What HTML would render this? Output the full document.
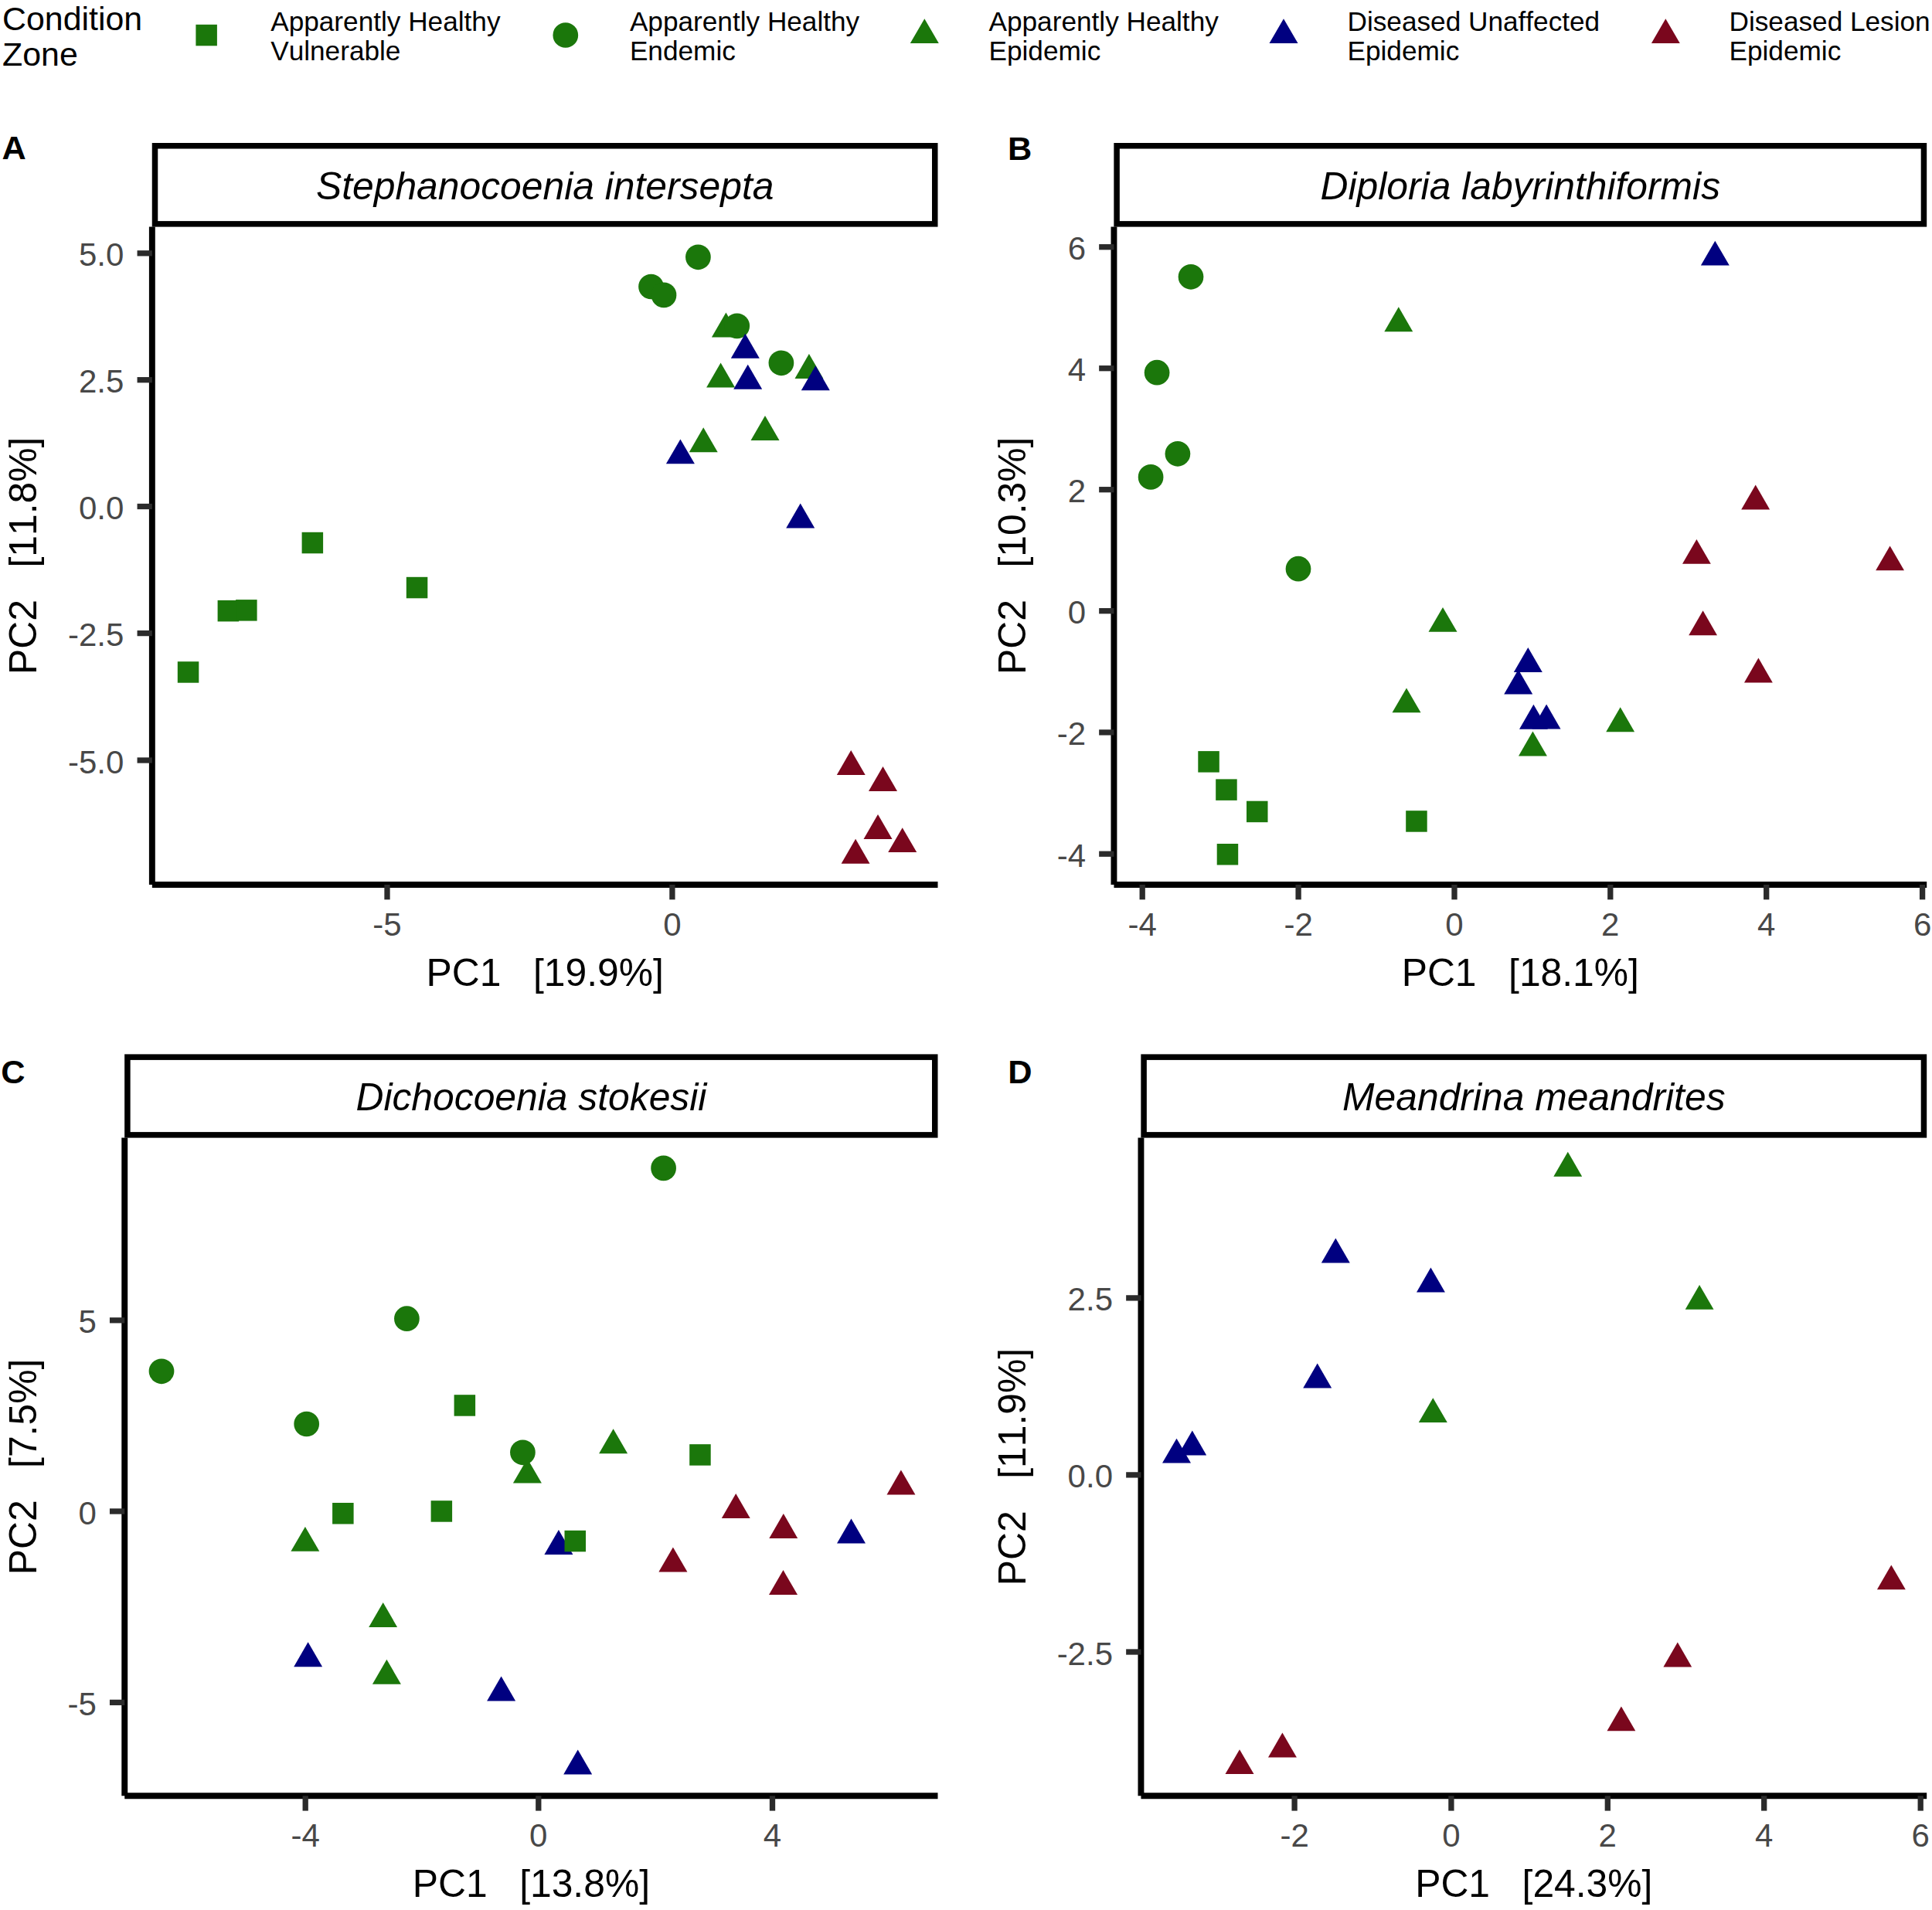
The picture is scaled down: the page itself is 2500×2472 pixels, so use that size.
<!DOCTYPE html>
<html lang="en"><head><meta charset="utf-8"><title>PCA of coral condition by zone</title>
<style>
html,body{margin:0;padding:0;background:#fff;}
body{width:2500px;height:2472px;overflow:hidden;}
svg{display:block;}
svg text{font-family:"Liberation Sans",sans-serif;font-kerning:none;font-variant-ligatures:none;font-feature-settings:"liga" 0,"kern" 0;}
</style></head><body>
<svg width="2500" height="2472" viewBox="0 0 2500 2472">
<rect width="2500" height="2472" fill="#ffffff"/>
<text x="3" y="39.3" font-size="42.9" fill="#000">Condition</text>
<text x="3" y="85" font-size="42.9" fill="#000">Zone</text>
<rect x="253.4" y="31.8" width="27.5" height="27.5" fill="#1b770b"/>
<text x="350.2" y="40.1" font-size="35.2" fill="#000">Apparently Healthy</text><text x="350.2" y="77.9" font-size="35.2" fill="#000">Vulnerable</text>
<circle cx="731.8" cy="45.5" r="16.35" fill="#1b770b"/>
<text x="814.9" y="40.1" font-size="35.2" fill="#000">Apparently Healthy</text><text x="814.9" y="77.9" font-size="35.2" fill="#000">Endemic</text>
<polygon points="1196.3,24.2 1177.8,56.1 1214.8,56.1" fill="#1b770b"/>
<text x="1279.5" y="40.1" font-size="35.2" fill="#000">Apparently Healthy</text><text x="1279.5" y="77.9" font-size="35.2" fill="#000">Epidemic</text>
<polygon points="1661.0,24.2 1642.5,56.1 1679.5,56.1" fill="#000080"/>
<text x="1743.5" y="40.1" font-size="35.2" fill="#000">Diseased Unaffected</text><text x="1743.5" y="77.9" font-size="35.2" fill="#000">Epidemic</text>
<polygon points="2155.3,24.2 2136.9,56.1 2173.8,56.1" fill="#7a071d"/>
<text x="2237.5" y="40.1" font-size="35.2" fill="#000">Diseased Lesion</text><text x="2237.5" y="77.9" font-size="35.2" fill="#000">Epidemic</text>
<rect x="200.50" y="188.75" width="1009.25" height="101.10" fill="#fff" stroke="#000" stroke-width="7.5"/>
<text x="705.2" y="257.9" font-size="49.8" font-style="italic" text-anchor="middle" fill="#000">Stephanocoenia intersepta</text>
<rect x="390.6" y="688.8" width="27.5" height="27.5" fill="#1b770b"/>
<rect x="525.8" y="746.8" width="27.5" height="27.5" fill="#1b770b"/>
<rect x="281.6" y="776.9" width="27.5" height="27.5" fill="#1b770b"/>
<rect x="305.1" y="776.1" width="27.5" height="27.5" fill="#1b770b"/>
<rect x="229.8" y="856.2" width="27.5" height="27.5" fill="#1b770b"/>
<circle cx="903.4" cy="332.8" r="16.35" fill="#1b770b"/>
<circle cx="842.5" cy="371.0" r="16.35" fill="#1b770b"/>
<circle cx="859.0" cy="381.9" r="16.35" fill="#1b770b"/>
<polygon points="939.4,404.5 920.9,436.5 957.9,436.5" fill="#1b770b"/>
<circle cx="953.7" cy="421.9" r="16.35" fill="#1b770b"/>
<polygon points="964.3,431.7 945.8,463.7 982.8,463.7" fill="#000080"/>
<circle cx="1010.9" cy="469.8" r="16.35" fill="#1b770b"/>
<polygon points="932.6,469.6 914.1,501.5 951.1,501.5" fill="#1b770b"/>
<polygon points="967.7,471.8 949.2,503.7 986.2,503.7" fill="#000080"/>
<polygon points="1046.9,458.1 1028.5,490.1 1065.4,490.1" fill="#1b770b"/>
<polygon points="1055.3,473.3 1036.8,505.3 1073.8,505.3" fill="#000080"/>
<polygon points="990.0,537.9 971.5,569.9 1008.5,569.9" fill="#1b770b"/>
<polygon points="880.4,568.4 861.9,600.3 898.9,600.3" fill="#000080"/>
<polygon points="910.2,553.3 891.8,585.3 928.7,585.3" fill="#1b770b"/>
<polygon points="1035.7,651.4 1017.2,683.4 1054.2,683.4" fill="#000080"/>
<polygon points="1101.2,971.0 1082.8,1003.0 1119.7,1003.0" fill="#7a071d"/>
<polygon points="1142.5,992.0 1124.0,1023.9 1161.0,1023.9" fill="#7a071d"/>
<polygon points="1136.0,1054.1 1117.5,1086.0 1154.5,1086.0" fill="#7a071d"/>
<polygon points="1167.7,1071.2 1149.2,1103.1 1186.2,1103.1" fill="#7a071d"/>
<polygon points="1107.1,1085.8 1088.6,1117.7 1125.5,1117.7" fill="#7a071d"/>
<line x1="196.85" y1="293.6" x2="196.85" y2="1145.0" stroke="#000" stroke-width="7.9"/>
<line x1="196.85" y1="1145.0" x2="1213.5" y2="1145.0" stroke="#000" stroke-width="7.9"/>
<line x1="501.0" y1="1145.0" x2="501.0" y2="1164.3" stroke="#2b2b2b" stroke-width="7.3"/>
<text x="501.0" y="1210.5" font-size="42.0" text-anchor="middle" fill="#484848">-5</text>
<line x1="869.9" y1="1145.0" x2="869.9" y2="1164.3" stroke="#2b2b2b" stroke-width="7.3"/>
<text x="869.9" y="1210.5" font-size="42.0" text-anchor="middle" fill="#484848">0</text>
<line x1="196.85" y1="327.8" x2="177.54999999999998" y2="327.8" stroke="#2b2b2b" stroke-width="7.3"/>
<text x="160.3" y="344.3" font-size="42.0" text-anchor="end" fill="#484848">5.0</text>
<line x1="196.85" y1="491.7" x2="177.54999999999998" y2="491.7" stroke="#2b2b2b" stroke-width="7.3"/>
<text x="160.3" y="508.2" font-size="42.0" text-anchor="end" fill="#484848">2.5</text>
<line x1="196.85" y1="655.5" x2="177.54999999999998" y2="655.5" stroke="#2b2b2b" stroke-width="7.3"/>
<text x="160.3" y="672.0" font-size="42.0" text-anchor="end" fill="#484848">0.0</text>
<line x1="196.85" y1="819.6" x2="177.54999999999998" y2="819.6" stroke="#2b2b2b" stroke-width="7.3"/>
<text x="160.3" y="836.1" font-size="42.0" text-anchor="end" fill="#484848">-2.5</text>
<line x1="196.85" y1="984.0" x2="177.54999999999998" y2="984.0" stroke="#2b2b2b" stroke-width="7.3"/>
<text x="160.3" y="1000.5" font-size="42.0" text-anchor="end" fill="#484848">-5.0</text>
<text x="705.2" y="1276.0" font-size="49.8" text-anchor="middle" fill="#000" xml:space="preserve">PC1   [19.9%]</text>
<text transform="translate(46.5,719.3) rotate(-90)" font-size="49.8" text-anchor="middle" fill="#000" xml:space="preserve">PC2   [11.8%]</text>
<text x="2.5" y="206.3" font-size="43.3" font-weight="bold" fill="#000">A</text>
<rect x="1445.10" y="188.75" width="1044.35" height="101.10" fill="#fff" stroke="#000" stroke-width="7.5"/>
<text x="1967.3" y="257.9" font-size="49.8" font-style="italic" text-anchor="middle" fill="#000">Diploria labyrinthiformis</text>
<circle cx="1541.0" cy="358.3" r="16.35" fill="#1b770b"/>
<circle cx="1497.1" cy="482.2" r="16.35" fill="#1b770b"/>
<circle cx="1523.9" cy="587.3" r="16.35" fill="#1b770b"/>
<circle cx="1489.1" cy="617.4" r="16.35" fill="#1b770b"/>
<circle cx="1680.0" cy="736.2" r="16.35" fill="#1b770b"/>
<polygon points="1809.8,397.3 1791.3,429.2 1828.2,429.2" fill="#1b770b"/>
<polygon points="2219.3,311.7 2200.9,343.6 2237.8,343.6" fill="#000080"/>
<polygon points="2271.7,627.5 2253.2,659.5 2290.1,659.5" fill="#7a071d"/>
<polygon points="2195.4,697.9 2177.0,729.8 2213.8,729.8" fill="#7a071d"/>
<polygon points="2445.6,706.4 2427.2,738.3 2464.0,738.3" fill="#7a071d"/>
<polygon points="2203.6,790.3 2185.2,822.2 2222.0,822.2" fill="#7a071d"/>
<polygon points="2275.4,851.5 2257.0,883.5 2293.8,883.5" fill="#7a071d"/>
<polygon points="1867.0,785.9 1848.5,817.8 1885.5,817.8" fill="#1b770b"/>
<polygon points="1820.0,890.4 1801.5,922.3 1838.5,922.3" fill="#1b770b"/>
<rect x="1550.3" y="972.1" width="27.5" height="27.5" fill="#1b770b"/>
<rect x="1573.2" y="1008.4" width="27.5" height="27.5" fill="#1b770b"/>
<rect x="1613.0" y="1036.7" width="27.5" height="27.5" fill="#1b770b"/>
<rect x="1819.2" y="1049.2" width="27.5" height="27.5" fill="#1b770b"/>
<rect x="1574.7" y="1092.0" width="27.5" height="27.5" fill="#1b770b"/>
<polygon points="1964.7,866.5 1946.2,898.4 1983.2,898.4" fill="#000080"/>
<polygon points="1977.3,837.9 1958.8,869.9 1995.8,869.9" fill="#000080"/>
<polygon points="1984.4,911.8 1966.0,943.7 2002.9,943.7" fill="#000080"/>
<polygon points="2001.1,911.4 1982.6,943.4 2019.5,943.4" fill="#000080"/>
<polygon points="2096.7,915.3 2078.2,947.3 2115.1,947.3" fill="#1b770b"/>
<polygon points="1983.4,946.6 1965.0,978.6 2001.9,978.6" fill="#1b770b"/>
<line x1="1441.45" y1="293.6" x2="1441.45" y2="1145.0" stroke="#000" stroke-width="7.9"/>
<line x1="1441.45" y1="1145.0" x2="2493.2" y2="1145.0" stroke="#000" stroke-width="7.9"/>
<line x1="1478.2" y1="1145.0" x2="1478.2" y2="1164.3" stroke="#2b2b2b" stroke-width="7.3"/>
<text x="1478.2" y="1210.5" font-size="42.0" text-anchor="middle" fill="#484848">-4</text>
<line x1="1680.1" y1="1145.0" x2="1680.1" y2="1164.3" stroke="#2b2b2b" stroke-width="7.3"/>
<text x="1680.1" y="1210.5" font-size="42.0" text-anchor="middle" fill="#484848">-2</text>
<line x1="1882.0" y1="1145.0" x2="1882.0" y2="1164.3" stroke="#2b2b2b" stroke-width="7.3"/>
<text x="1882.0" y="1210.5" font-size="42.0" text-anchor="middle" fill="#484848">0</text>
<line x1="2083.8" y1="1145.0" x2="2083.8" y2="1164.3" stroke="#2b2b2b" stroke-width="7.3"/>
<text x="2083.8" y="1210.5" font-size="42.0" text-anchor="middle" fill="#484848">2</text>
<line x1="2285.7" y1="1145.0" x2="2285.7" y2="1164.3" stroke="#2b2b2b" stroke-width="7.3"/>
<text x="2285.7" y="1210.5" font-size="42.0" text-anchor="middle" fill="#484848">4</text>
<line x1="2487.6" y1="1145.0" x2="2487.6" y2="1164.3" stroke="#2b2b2b" stroke-width="7.3"/>
<text x="2487.6" y="1210.5" font-size="42.0" text-anchor="middle" fill="#484848">6</text>
<line x1="1441.45" y1="319.7" x2="1422.15" y2="319.7" stroke="#2b2b2b" stroke-width="7.3"/>
<text x="1405.0" y="336.2" font-size="42.0" text-anchor="end" fill="#484848">6</text>
<line x1="1441.45" y1="476.7" x2="1422.15" y2="476.7" stroke="#2b2b2b" stroke-width="7.3"/>
<text x="1405.0" y="493.2" font-size="42.0" text-anchor="end" fill="#484848">4</text>
<line x1="1441.45" y1="633.7" x2="1422.15" y2="633.7" stroke="#2b2b2b" stroke-width="7.3"/>
<text x="1405.0" y="650.2" font-size="42.0" text-anchor="end" fill="#484848">2</text>
<line x1="1441.45" y1="790.7" x2="1422.15" y2="790.7" stroke="#2b2b2b" stroke-width="7.3"/>
<text x="1405.0" y="807.2" font-size="42.0" text-anchor="end" fill="#484848">0</text>
<line x1="1441.45" y1="947.9" x2="1422.15" y2="947.9" stroke="#2b2b2b" stroke-width="7.3"/>
<text x="1405.0" y="964.4" font-size="42.0" text-anchor="end" fill="#484848">-2</text>
<line x1="1441.45" y1="1105.2" x2="1422.15" y2="1105.2" stroke="#2b2b2b" stroke-width="7.3"/>
<text x="1405.0" y="1121.7" font-size="42.0" text-anchor="end" fill="#484848">-4</text>
<text x="1967.3" y="1276.0" font-size="49.8" text-anchor="middle" fill="#000" xml:space="preserve">PC1   [18.1%]</text>
<text transform="translate(1327,719.3) rotate(-90)" font-size="49.8" text-anchor="middle" fill="#000" xml:space="preserve">PC2   [10.3%]</text>
<text x="1304" y="206.8" font-size="43.3" font-weight="bold" fill="#000">B</text>
<rect x="164.90" y="1368.15" width="1044.85" height="100.70" fill="#fff" stroke="#000" stroke-width="7.5"/>
<text x="687.4" y="1437.3" font-size="49.8" font-style="italic" text-anchor="middle" fill="#000">Dichocoenia stokesii</text>
<circle cx="858.6" cy="1511.9" r="16.35" fill="#1b770b"/>
<circle cx="526.4" cy="1706.7" r="16.35" fill="#1b770b"/>
<circle cx="209.0" cy="1774.8" r="16.35" fill="#1b770b"/>
<circle cx="396.7" cy="1843.0" r="16.35" fill="#1b770b"/>
<polygon points="682.4,1887.7 663.9,1919.6 700.9,1919.6" fill="#1b770b"/>
<circle cx="676.4" cy="1879.8" r="16.35" fill="#1b770b"/>
<rect x="587.6" y="1805.2" width="27.5" height="27.5" fill="#1b770b"/>
<polygon points="793.6,1849.3 775.1,1881.3 812.1,1881.3" fill="#1b770b"/>
<rect x="892.2" y="1869.2" width="27.5" height="27.5" fill="#1b770b"/>
<rect x="430.1" y="1945.0" width="27.5" height="27.5" fill="#1b770b"/>
<rect x="557.6" y="1942.2" width="27.5" height="27.5" fill="#1b770b"/>
<polygon points="394.9,1975.9 376.4,2007.8 413.3,2007.8" fill="#1b770b"/>
<polygon points="495.7,2074.0 477.2,2106.0 514.1,2106.0" fill="#1b770b"/>
<polygon points="398.6,2125.3 380.2,2157.2 417.1,2157.2" fill="#000080"/>
<polygon points="500.4,2147.8 481.9,2179.7 518.9,2179.7" fill="#1b770b"/>
<polygon points="648.6,2169.5 630.1,2201.4 667.1,2201.4" fill="#000080"/>
<polygon points="1165.9,1902.5 1147.5,1934.5 1184.4,1934.5" fill="#7a071d"/>
<polygon points="952.2,1933.0 933.8,1964.9 970.7,1964.9" fill="#7a071d"/>
<polygon points="1013.8,1958.9 995.3,1990.9 1032.2,1990.9" fill="#7a071d"/>
<polygon points="1101.5,1965.5 1083.0,1997.5 1120.0,1997.5" fill="#000080"/>
<polygon points="722.9,1980.0 704.4,2011.9 741.4,2011.9" fill="#000080"/>
<rect x="730.5" y="1980.8" width="27.5" height="27.5" fill="#1b770b"/>
<polygon points="870.9,2002.4 852.4,2034.4 889.4,2034.4" fill="#7a071d"/>
<polygon points="1013.5,2032.1 995.0,2064.1 1032.0,2064.1" fill="#7a071d"/>
<polygon points="747.7,2264.4 729.2,2296.4 766.2,2296.4" fill="#000080"/>
<line x1="161.25" y1="1472.6" x2="161.25" y2="2324.3" stroke="#000" stroke-width="7.9"/>
<line x1="161.25" y1="2324.3" x2="1213.5" y2="2324.3" stroke="#000" stroke-width="7.9"/>
<line x1="395.2" y1="2324.3" x2="395.2" y2="2343.6000000000004" stroke="#2b2b2b" stroke-width="7.3"/>
<text x="395.2" y="2389.8" font-size="42.0" text-anchor="middle" fill="#484848">-4</text>
<line x1="696.8" y1="2324.3" x2="696.8" y2="2343.6000000000004" stroke="#2b2b2b" stroke-width="7.3"/>
<text x="696.8" y="2389.8" font-size="42.0" text-anchor="middle" fill="#484848">0</text>
<line x1="999.5" y1="2324.3" x2="999.5" y2="2343.6000000000004" stroke="#2b2b2b" stroke-width="7.3"/>
<text x="999.5" y="2389.8" font-size="42.0" text-anchor="middle" fill="#484848">4</text>
<line x1="161.25" y1="1708.8" x2="141.95" y2="1708.8" stroke="#2b2b2b" stroke-width="7.3"/>
<text x="124.8" y="1725.3" font-size="42.0" text-anchor="end" fill="#484848">5</text>
<line x1="161.25" y1="1956.0" x2="141.95" y2="1956.0" stroke="#2b2b2b" stroke-width="7.3"/>
<text x="124.8" y="1972.5" font-size="42.0" text-anchor="end" fill="#484848">0</text>
<line x1="161.25" y1="2203.4" x2="141.95" y2="2203.4" stroke="#2b2b2b" stroke-width="7.3"/>
<text x="124.8" y="2219.9" font-size="42.0" text-anchor="end" fill="#484848">-5</text>
<text x="687.4" y="2455.3" font-size="49.8" text-anchor="middle" fill="#000" xml:space="preserve">PC1   [13.8%]</text>
<text transform="translate(46.5,1898.5) rotate(-90)" font-size="49.8" text-anchor="middle" fill="#000" xml:space="preserve">PC2   [7.5%]</text>
<text x="1.3" y="1402.4" font-size="43.3" font-weight="bold" fill="#000">C</text>
<rect x="1480.10" y="1368.15" width="1009.35" height="100.70" fill="#fff" stroke="#000" stroke-width="7.5"/>
<text x="1984.8" y="1437.3" font-size="49.8" font-style="italic" text-anchor="middle" fill="#000">Meandrina meandrites</text>
<polygon points="1728.3,1602.5 1709.8,1634.4 1746.8,1634.4" fill="#000080"/>
<polygon points="1851.4,1640.5 1833.0,1672.4 1869.9,1672.4" fill="#000080"/>
<polygon points="1704.7,1764.6 1686.2,1796.5 1723.2,1796.5" fill="#000080"/>
<polygon points="1854.3,1809.2 1835.8,1841.1 1872.8,1841.1" fill="#1b770b"/>
<polygon points="1522.5,1861.7 1504.0,1893.6 1541.0,1893.6" fill="#000080"/>
<polygon points="1542.8,1851.6 1524.3,1883.5 1561.2,1883.5" fill="#000080"/>
<polygon points="2028.8,1490.8 2010.3,1522.8 2047.2,1522.8" fill="#1b770b"/>
<polygon points="2199.1,1662.9 2180.7,1694.8 2217.5,1694.8" fill="#1b770b"/>
<polygon points="1659.4,2242.4 1641.0,2274.4 1677.9,2274.4" fill="#7a071d"/>
<polygon points="1604.0,2264.2 1585.5,2296.1 1622.5,2296.1" fill="#7a071d"/>
<polygon points="2447.3,2025.4 2428.9,2057.3 2465.8,2057.3" fill="#7a071d"/>
<polygon points="2170.8,2125.5 2152.4,2157.4 2189.2,2157.4" fill="#7a071d"/>
<polygon points="2097.9,2208.4 2079.5,2240.3 2116.3,2240.3" fill="#7a071d"/>
<line x1="1476.45" y1="1472.6" x2="1476.45" y2="2324.3" stroke="#000" stroke-width="7.9"/>
<line x1="1476.45" y1="2324.3" x2="2493.2" y2="2324.3" stroke="#000" stroke-width="7.9"/>
<line x1="1675.1" y1="2324.3" x2="1675.1" y2="2343.6000000000004" stroke="#2b2b2b" stroke-width="7.3"/>
<text x="1675.1" y="2389.8" font-size="42.0" text-anchor="middle" fill="#484848">-2</text>
<line x1="1877.9" y1="2324.3" x2="1877.9" y2="2343.6000000000004" stroke="#2b2b2b" stroke-width="7.3"/>
<text x="1877.9" y="2389.8" font-size="42.0" text-anchor="middle" fill="#484848">0</text>
<line x1="2080.3" y1="2324.3" x2="2080.3" y2="2343.6000000000004" stroke="#2b2b2b" stroke-width="7.3"/>
<text x="2080.3" y="2389.8" font-size="42.0" text-anchor="middle" fill="#484848">2</text>
<line x1="2282.7" y1="2324.3" x2="2282.7" y2="2343.6000000000004" stroke="#2b2b2b" stroke-width="7.3"/>
<text x="2282.7" y="2389.8" font-size="42.0" text-anchor="middle" fill="#484848">4</text>
<line x1="2485.2" y1="2324.3" x2="2485.2" y2="2343.6000000000004" stroke="#2b2b2b" stroke-width="7.3"/>
<text x="2485.2" y="2389.8" font-size="42.0" text-anchor="middle" fill="#484848">6</text>
<line x1="1476.45" y1="1679.9" x2="1457.15" y2="1679.9" stroke="#2b2b2b" stroke-width="7.3"/>
<text x="1440.0" y="1696.4" font-size="42.0" text-anchor="end" fill="#484848">2.5</text>
<line x1="1476.45" y1="1908.9" x2="1457.15" y2="1908.9" stroke="#2b2b2b" stroke-width="7.3"/>
<text x="1440.0" y="1925.4" font-size="42.0" text-anchor="end" fill="#484848">0.0</text>
<line x1="1476.45" y1="2138.0" x2="1457.15" y2="2138.0" stroke="#2b2b2b" stroke-width="7.3"/>
<text x="1440.0" y="2154.5" font-size="42.0" text-anchor="end" fill="#484848">-2.5</text>
<text x="1984.8" y="2455.3" font-size="49.8" text-anchor="middle" fill="#000" xml:space="preserve">PC1   [24.3%]</text>
<text transform="translate(1327,1898.5) rotate(-90)" font-size="49.8" text-anchor="middle" fill="#000" xml:space="preserve">PC2   [11.9%]</text>
<text x="1304.2" y="1402.4" font-size="43.3" font-weight="bold" fill="#000">D</text>
</svg>
</body></html>
